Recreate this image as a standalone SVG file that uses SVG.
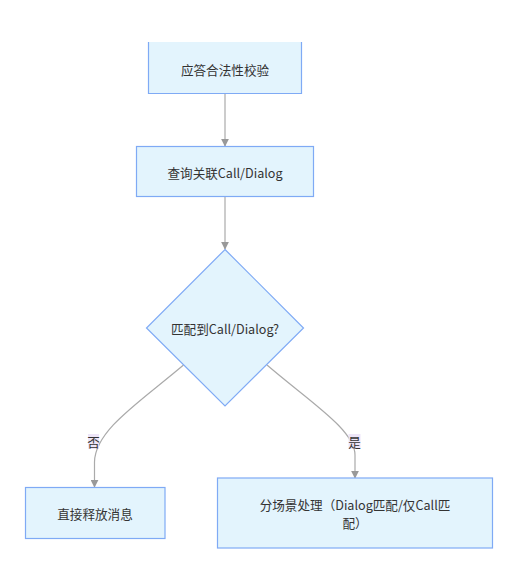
<svg xmlns="http://www.w3.org/2000/svg" width="513" height="572" viewBox="0 0 513 572">
<style>
.node{fill:#e3f4fd;stroke:#7faaf5;stroke-width:1.2}
.lbl{font-family:"Noto Sans CJK SC","Noto Sans",sans-serif;font-size:12.6px;fill:#333;text-anchor:middle;dominant-baseline:central}
.edge{fill:none;stroke:#aaaaaa;stroke-width:1.2}
.elbg{fill:#ebe2f7;opacity:0.9}
</style>
<defs>
<marker id="arr" viewBox="0 0 10 10" refX="9" refY="5" markerWidth="8" markerHeight="8" markerUnits="userSpaceOnUse" orient="auto">
<path d="M0,0 L10,5 L0,10 z" fill="#999"/>
</marker>
</defs>
<rect width="513" height="572" fill="#fff"/>
<g id="edges">
<path class="edge" d="M225,93.5 L225,146" marker-end="url(#arr)"/>
<path class="edge" d="M225,196.5 L225,249" marker-end="url(#arr)"/>
<path class="edge" d="M183.5,365 C140,402 95,430 94.5,462 L94.5,487" marker-end="url(#arr)"/>
<path class="edge" d="M267,365 C310,402 355,430 355,455 L355,478" marker-end="url(#arr)"/>
<rect class="elbg" x="88" y="434" width="11" height="15"/>
<text class="lbl" x="93.5" y="441.5">否</text>
<rect class="elbg" x="348.5" y="434" width="12" height="15"/>
<text class="lbl" x="354.5" y="441.5">是</text>
</g>
<g id="n1">
<rect x="148.5" y="42" width="153" height="51.5" fill="#e3f4fd"/>
<path d="M148.5,42 V93.5 H301.5 V42" fill="none" stroke="#7faaf5" stroke-width="1.2"/>
<text class="lbl" x="225" y="69">应答合法性校验</text>
</g>
<g id="n2">
<rect class="node" x="136.5" y="146.5" width="177" height="50"/>
<text class="lbl" x="225" y="172">查询关联Call/Dialog</text>
</g>
<g id="n3">
<polygon class="node" points="225,249.5 303.5,328 225,406 146.5,328"/>
<text class="lbl" x="225" y="328">匹配到Call/Dialog?</text>
</g>
<g id="n4">
<rect class="node" x="25.5" y="487.5" width="139.5" height="51"/>
<text class="lbl" x="95" y="513">直接释放消息</text>
</g>
<g id="n5">
<rect class="node" x="217.5" y="478" width="275" height="70"/>
<text class="lbl" x="355" y="504">分场景处理（Dialog匹配/仅Call匹</text>
<text class="lbl" x="355" y="522.5">配）</text>
</g>
</svg>
